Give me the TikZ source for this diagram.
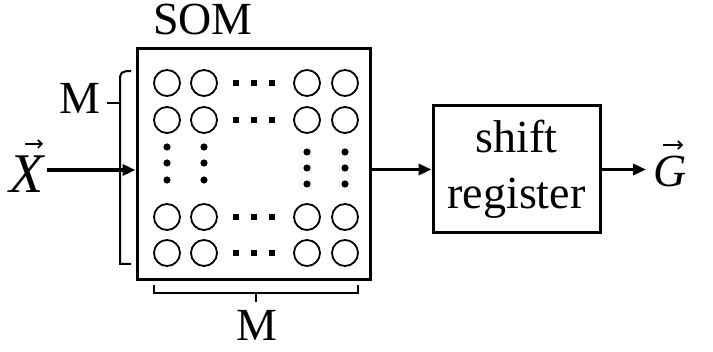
\documentclass[tikz,border=0pt]{standalone}
\usepackage{fontspec}
\setmainfont{Liberation Serif}
\usetikzlibrary{arrows.meta}
\begin{document}
\begin{tikzpicture}[x=1pt,y=-1pt,
  lbl/.style={font=\fontsize{46}{56}\selectfont, inner sep=0pt},
  vecl/.style={inner sep=0pt},
  vecarrow/.style={line width=1.6pt, -{Straight Barb[length=4pt,width=8pt]}},
  blk/.style={draw, line width=3pt, inner sep=0pt},
  neuron/.style={draw, circle, line width=1.8pt, minimum size=26pt, inner sep=0pt},
  flow/.style={line width=3.5pt, -{Triangle[length=13pt,width=11pt]}},
  brk/.style={line width=2pt}]
\useasboundingbox (0,0) rectangle (713,352);

% SOM block
\node[blk, minimum width=233pt, minimum height=231pt] (som) at (253.5,164.5) {};
\node[lbl] (somlbl) at (203,20) {SOM};

% grid of neurons
\foreach \c/\x in {1/167,2/204,3/307,4/345}
  \foreach \r/\y in {1/83,2/120,3/217,4/253}
    \node[neuron] (n\r\c) at (\x,\y) {};

% horizontal ellipses between columns
\foreach \y in {83,120,217,253}
  \foreach \x in {236,254,272}
    \fill (\x-3,\y-3) rectangle (\x+3,\y+3);

% vertical ellipses between rows
\foreach \x in {167,204}
  \foreach \y in {147,163,180}
    \fill (\x,\y) circle (3.6pt);
\foreach \x in {307,345}
  \foreach \y in {152,168,184}
    \fill (\x,\y) circle (3.6pt);

% left bracket with label
\draw[brk] (131,71) .. controls (121,71) and (120,73) .. (120,80) -- (120,264) -- (131,264);
\draw[brk] (107,103) -- (120,103);
\node[lbl] (mleft) at (80,98) {M};

% bottom bracket with label
\draw[brk] (154,285) -- (154,293) -- (358,293) -- (358,285);
\draw[brk] (256,293) -- (256,302);
\node[lbl] (mbottom) at (257,325) {M};

% shift register
\node[blk, minimum width=167pt, minimum height=127pt, align=center, lbl, draw, line width=3pt]
  (sr) at (516.5,169.5) {shift\\register};

% input vector X
\node[vecl, font=\fontsize{56}{60}\selectfont\itshape, anchor=base] (xlbl) at (27,193) {X};
\draw[vecarrow] (25,144) -- (43,144);
\coordinate (xin) at (47,170);
\draw[flow] (xin) -- (xin -| som.west);

% SOM to shift register, and output vector G
\draw[flow] (som.east |- sr.west) -- (sr.west);
\coordinate (gout) at (646,169.5);
\draw[flow] (sr.east) -- (gout);
\node[vecl, font=\fontsize{46}{50}\selectfont\itshape, anchor=base] (glbl) at (670,187) {G};
\draw[vecarrow] (663,145) -- (683,145);
\end{tikzpicture}
\end{document}
